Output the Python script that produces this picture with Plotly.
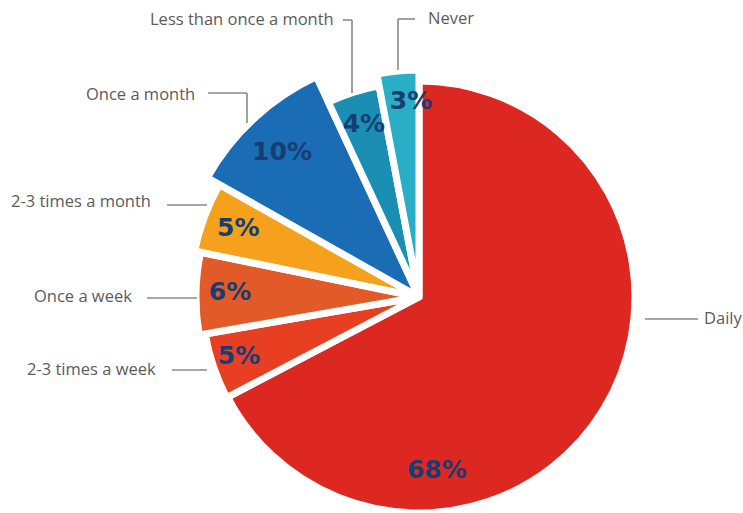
import numpy as np
import plotly.graph_objects as go

# ---------------- data ----------------
categories = ["Daily", "2-3 times a week", "Once a week", "2-3 times a month",
              "Once a month", "Less than once a month", "Never"]
values = [68, 5, 6, 5, 10, 4, 3]
pct_labels = ["68%", "5%", "6%", "5%", "10%", "4%", "3%"]

# ---------------- styling / layout ----------------
slice_radius = [216, 217, 223, 229, 243, 215, 227]   # visual radius of each wedge
colors = ["#dc2820", "#e83f22", "#e25a27", "#f5a11b", "#1a6db4", "#1a8fb3", "#2aaec6"]
label_r = [176, 190, 189, 193, 198, 180, 194]
label_dtheta = [53, 0, 0, 0, -1, 0, 3]               # label angle offset from slice centre

W, H = 743, 513            # visible window
FH = 560                   # figure height (extends below the window so the pie can be large)
cx, cy = 419, 297          # pie centre in pixels
R = 250                    # radial range in pixels

vals = np.array(values, dtype=float)
widths = vals / vals.sum() * 360.0
starts = np.concatenate([[0.0], np.cumsum(widths)[:-1]])
centers = starts + widths / 2.0
label_theta = centers + np.array(label_dtheta, dtype=float)

fig = go.Figure()
fig.add_trace(go.Barpolar(
    r=slice_radius, theta=centers, width=widths, base=0,
    marker=dict(color=colors, line=dict(color="white", width=7)),
    hovertext=categories, hoverinfo="text", showlegend=False,
))
fig.add_trace(go.Scatterpolar(
    r=label_r, theta=label_theta, mode="text", text=pct_labels,
    textfont=dict(family="DejaVu Sans", size=25, color="#173d73", weight="bold"),
    cliponaxis=False, hoverinfo="skip", showlegend=False,
))

def px(x):
    return x / W

def py(y):
    return 1 - y / FH

# category labels: (text, x, y, anchor)
label_pos = [
    ("Daily", 702, 317, "left"),
    ("2-3 times a week", 158, 368, "right"),
    ("Once a week", 134, 295, "right"),
    ("2-3 times a month", 153, 200, "right"),
    ("Once a month", 197, 94, "right"),
    ("Less than once a month", 336, 18, "right"),
    ("Never", 426, 17, "left"),
]
annotations = []
for txt, x, y, anc in label_pos:
    annotations.append(dict(
        text=txt, x=px(x), y=py(y), xref="paper", yref="paper",
        xanchor=anc, yanchor="middle", showarrow=False,
        font=dict(family="Open Sans", size=16.5, color="#5b5b5b"),
    ))

leaders = [
    [(645, 319), (698, 319)],
    [(172, 370), (207, 370)],
    [(147, 298), (197, 298)],
    [(167, 205), (207, 205)],
    [(208, 93), (247, 93), (247, 123)],
    [(343, 20), (352, 20), (352, 93)],
    [(415, 19), (398, 19), (398, 70)],
]
shapes = []
for pts in leaders:
    for (x0, y0), (x1, y1) in zip(pts[:-1], pts[1:]):
        shapes.append(dict(type="line", xref="paper", yref="paper",
                           x0=px(x0), y0=py(y0), x1=px(x1), y1=py(y1),
                           line=dict(color="#8a8a8a", width=1.6)))

fig.update_layout(
    width=W, height=FH,
    margin=dict(l=0, r=0, t=0, b=0),
    paper_bgcolor="white", plot_bgcolor="white",
    polar=dict(
        domain=dict(x=[(cx - R) / W, (cx + R) / W], y=[(FH - cy - R) / FH, (FH - cy + R) / FH]),
        bgcolor="rgba(0,0,0,0)", bargap=0, hole=0,
        radialaxis=dict(range=[0, R], visible=False),
        angularaxis=dict(rotation=90, direction="clockwise", visible=False),
    ),
    annotations=annotations, shapes=shapes,
)

fig.write_html("out.html", config={"displayModeBar": False},
               post_script="document.body.style.margin='0';document.body.style.overflow='hidden';")
